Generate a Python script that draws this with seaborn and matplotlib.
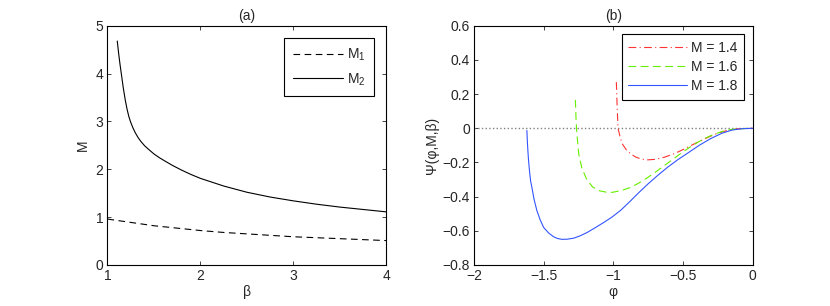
import numpy as np
import pandas as pd
import matplotlib
matplotlib.use('Agg')
import matplotlib.pyplot as plt
import seaborn as sns

# panel (a): critical Mach numbers vs beta
beta_m1 = [1.0, 1.25, 1.5, 1.75, 2.0, 2.25, 2.5, 2.75, 3.0, 3.25, 3.5, 3.75, 4.0]
m1_vals = [0.96, 0.89, 0.82, 0.77, 0.72, 0.68, 0.65, 0.62, 0.59, 0.57, 0.55, 0.53, 0.51]
beta_m2 = [1.105, 1.12, 1.135, 1.15, 1.17, 1.19, 1.21, 1.23, 1.25, 1.275, 1.30, 1.33,
           1.36, 1.40, 1.44, 1.50, 1.56, 1.62, 1.70, 1.80, 1.90, 2.0, 2.25, 2.5, 2.75,
           3.0, 3.25, 3.5, 3.75, 4.0]
m2_vals = [4.68, 4.42, 4.19, 3.98, 3.70, 3.46, 3.26, 3.10, 2.98, 2.86, 2.76, 2.66,
           2.58, 2.49, 2.42, 2.32, 2.24, 2.17, 2.08, 1.98, 1.89, 1.81, 1.65, 1.52, 1.42,
           1.34, 1.27, 1.21, 1.16, 1.11]

# panel (b): Sagdeev potential for three Mach numbers
phi_14 = [-0.978, -0.972, -0.966, -0.95, -0.935, -0.905, -0.875, -0.84, -0.80, -0.755,
          -0.70, -0.635, -0.56, -0.49, -0.43, -0.37, -0.31, -0.25, -0.2, -0.154, -0.1, -0.05, 0.0]
psi_14 = [0.27, 0.12, 0.0, -0.055, -0.092, -0.128, -0.15, -0.168, -0.180, -0.185,
          -0.182, -0.170, -0.148, -0.121, -0.096, -0.072, -0.049, -0.029, -0.017, -0.008, -0.003, -0.001, 0.0]
phi_16 = [-1.272, -1.268, -1.264, -1.256, -1.248, -1.225, -1.19, -1.15, -1.104, -1.05, -1.007,
          -0.94, -0.875, -0.82, -0.76, -0.70, -0.64, -0.58, -0.52, -0.46, -0.40, -0.34,
          -0.28, -0.22, -0.154, -0.08, 0.0]
psi_16 = [0.166, 0.07, 0.0, -0.08, -0.15, -0.235, -0.300, -0.342, -0.365, -0.374, -0.375,
          -0.364, -0.346, -0.322, -0.292, -0.258, -0.222, -0.186, -0.150, -0.116, -0.085, -0.058,
          -0.036, -0.019, -0.007, -0.002, 0.0]
phi_18 = [-1.620, -1.617, -1.613, -1.608, -1.600, -1.593, -1.584, -1.570, -1.548, -1.525,
          -1.50, -1.465, -1.428, -1.40, -1.368, -1.33, -1.284, -1.24, -1.188, -1.13, -1.068,
          -1.01, -0.947, -0.88, -0.815, -0.75, -0.68, -0.61, -0.539, -0.46, -0.38, -0.30,
          -0.22, -0.15, -0.08, 0.0]
psi_18 = [-0.013, -0.07, -0.13, -0.189, -0.26, -0.31, -0.346, -0.41, -0.483, -0.535,
          -0.580, -0.612, -0.635, -0.645, -0.650, -0.649, -0.643, -0.630, -0.610, -0.582, -0.551,
          -0.520, -0.480, -0.428, -0.375, -0.325, -0.275, -0.228, -0.185, -0.142, -0.098, -0.060,
          -0.029, -0.011, -0.003, 0.0]

sns.set_theme(style='ticks')
plt.rcParams['font.family'] = ['Liberation Sans', 'DejaVu Sans']
plt.rcParams['mathtext.fontset'] = 'custom'
plt.rcParams['mathtext.rm'] = 'Liberation Sans'
plt.rcParams['mathtext.it'] = 'Liberation Sans:italic'
fs = 10

fig = plt.figure(figsize=(8.3, 3.06), dpi=100)
ax1 = fig.add_axes([0.1295, 0.134, 0.336, 0.782])
ax2 = fig.add_axes([0.571, 0.134, 0.3358, 0.782])

# (a)
sns.lineplot(x=beta_m1, y=m1_vals, ax=ax1, color='black', lw=0.8, label='M$_1$')
sns.lineplot(x=beta_m2, y=m2_vals, ax=ax1, color='black', lw=0.8, label='M$_2$')
ax1.lines[0].set_dashes([6, 4])
ax1.set_xlim(1, 4)
ax1.set_ylim(0, 5)
ax1.set_xticks([1, 2, 3, 4])
ax1.set_yticks([0, 1, 2, 3, 4, 5])
ax1.set_xlabel('β', fontsize=fs, labelpad=1)
ax1.set_ylabel('M', fontsize=fs, labelpad=4)
ax1.set_title('(a)', fontsize=fs, pad=4)
leg1 = ax1.legend(loc='upper right', fontsize=fs, handlelength=3.6, fancybox=False,
                  edgecolor='black', framealpha=1, borderaxespad=0.9, labelspacing=0.6,
                  handletextpad=0.3, borderpad=0.6)
leg1.get_frame().set_linewidth(0.8)
for h in leg1.get_lines():
    h.set_linewidth(0.8)
leg1.get_lines()[0].set_dashes([6, 4])

# (b)
ax2.plot([-2, 0], [0, 0], color='gray', linestyle=':', lw=1.0)
sns.lineplot(x=phi_14, y=psi_14, ax=ax2, color='#ff3333', lw=0.8, label='M = 1.4')
sns.lineplot(x=phi_16, y=psi_16, ax=ax2, color='#66ee00', lw=0.8, label='M = 1.6')
sns.lineplot(x=phi_18, y=psi_18, ax=ax2, color='#3355ff', lw=0.8, label='M = 1.8')
ax2.lines[1].set_dashes([7, 3, 1, 3])
ax2.lines[2].set_dashes([7, 4])
ax2.set_xlim(-2, 0)
ax2.set_ylim(-0.8, 0.6)
ax2.set_xticks([-2, -1.5, -1, -0.5, 0])
ax2.set_xticklabels(['\u22122', '\u22121.5', '\u22121', '\u22120.5', '0'])
ax2.set_yticks(np.round(np.arange(-0.8, 0.61, 0.2), 1))
ax2.set_yticklabels(['\u22120.8', '\u22120.6', '\u22120.4', '\u22120.2', '0', '0.2', '0.4', '0.6'])
ax2.set_xlabel('φ', fontsize=fs, labelpad=1)
ax2.set_ylabel('Ψ(φ,M,β)', fontsize=fs, labelpad=2)
ax2.set_title('(b)', fontsize=fs, pad=4)
leg2 = ax2.legend(loc='upper right', fontsize=fs, handlelength=4.2, fancybox=False,
                  edgecolor='black', framealpha=1, borderaxespad=0.6, labelspacing=0.35,
                  handletextpad=0.3, borderpad=0.5)
leg2.get_frame().set_linewidth(0.8)
for h in leg2.get_lines():
    h.set_linewidth(0.8)
leg2.get_lines()[0].set_dashes([7, 3, 1, 3])
leg2.get_lines()[1].set_dashes([7, 4])

for ax in (ax1, ax2):
    ax.tick_params(direction='in', length=3, width=0.6, labelsize=fs, top=True, right=True, pad=3)
    for sp in ax.spines.values():
        sp.set_visible(True)
        sp.set_linewidth(0.8)
        sp.set_color('black')

fig.savefig('out.png', dpi=100)
